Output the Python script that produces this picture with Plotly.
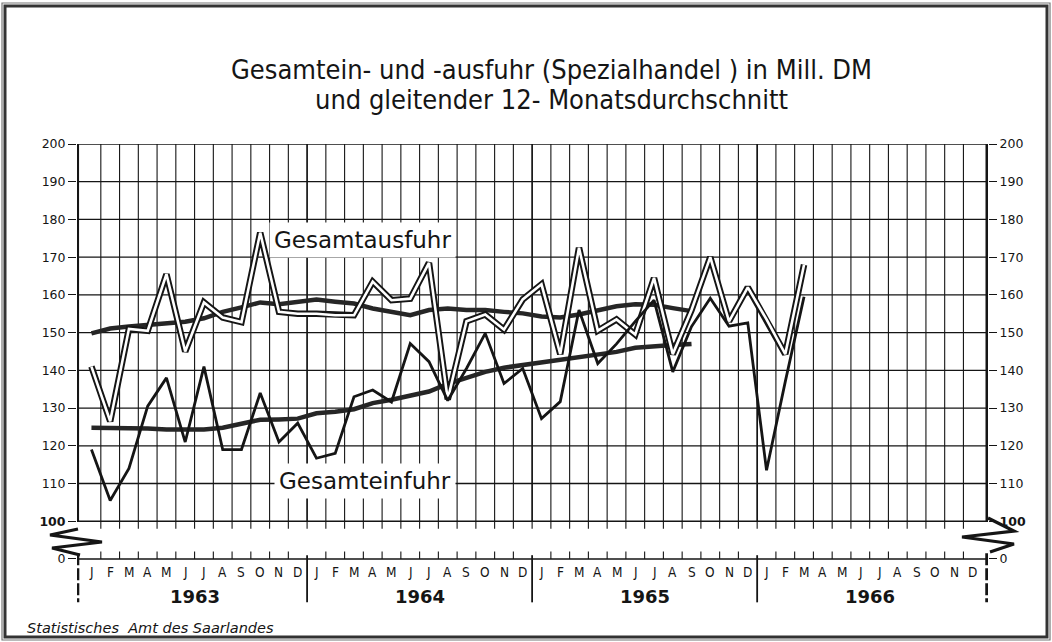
import plotly.graph_objects as go

# ---------------- data ----------------
month_letters = ["J", "F", "M", "A", "M", "J", "J", "A", "S", "O", "N", "D"]
years = ["1963", "1964", "1965", "1966"]

# Gesamtausfuhr, monthly (Jan 1963 .. Mar 1966), Mill. DM
export_monthly = [
    141, 126.5, 151, 150.5, 165.5, 145, 158, 154, 152.8, 176.5, 155.5, 155,
    155, 154.6, 154.6, 163.5, 158.6, 159, 168.5, 132.3, 153, 154.8, 150.8, 158.8,
    162.8, 144.3, 172.5, 150.5, 153.5, 149.5, 164.5, 144.3, 156, 170, 153, 162,
    153.5, 144.3, 168,
]
# Gesamtausfuhr, gliding 12-month average (Jan 1963 .. Sep 1965)
export_ma = [
    149.8, 151.1, 151.6, 152, 152.6, 152.9, 153.8, 155.5, 156.7, 158, 157.5, 158.2,
    158.8, 158.2, 157.7, 156.4, 155.5, 154.6, 156, 156.4, 156, 156, 155.5, 155.1,
    154.3, 154, 154.8, 156, 157, 157.5, 157.4, 156.5, 155.7,
]
# Gesamteinfuhr, monthly (Jan 1963 .. Mar 1966)
import_monthly = [
    119, 105.5, 114, 130.5, 138, 121, 141, 119, 119, 134, 121, 126,
    116.7, 118, 133, 134.8, 131.6, 147.1, 142.3, 132, 140.5, 149.8, 136.5, 140.5,
    127.2, 131.7, 156, 141.8, 147, 153, 158.6, 139.6, 151.6, 159.1, 151.7, 152.6,
    113.5, 137, 159.5,
]
# Gesamteinfuhr, gliding 12-month average (Jan 1963 .. Sep 1965)
import_ma = [
    124.8, 124.8, 124.8, 124.6, 124.3, 124.3, 124.3, 124.8, 125.9, 126.9, 127, 127.2,
    128.6, 129, 129.7, 131.3, 132.2, 133.4, 134.4, 136.4, 138, 139.6, 140.7, 141.4,
    142.3, 142.9, 143.6, 144.3, 144.9, 146, 146.2, 146.7, 147,
]
y_tick_values = [100, 110, 120, 130, 140, 150, 160, 170, 180, 190, 200]
y_tick_labels = ["<b>100</b>", "110", "120", "130", "140", "150", "160", "170", "180", "190", "200"]
zero_label = "0"

# ---------------- geometry ----------------
W, H = 1052, 642
L, R, T, B = 77, 988, 144, 608
PW, PH = R - L, B - T
X_RANGE = [-0.77, 47.81]
Y_RANGE = [77, 200]
ZERO_POS = 90          # broken axis: "0" drawn at this level
N_MONTHS = 48


def px(xp, yp):
    """pixel -> paper coords (for decorations only)"""
    return (xp - L) / PW, (B - yp) / PH


INK = "#151515"
fig = go.Figure()

# import MA
fig.add_trace(go.Scatter(x=list(range(len(import_ma))), y=import_ma, mode="lines",
                         line=dict(color="#262626", width=4.5), hoverinfo="skip"))
# export MA
fig.add_trace(go.Scatter(x=list(range(len(export_ma))), y=export_ma, mode="lines",
                         line=dict(color="#262626", width=4.5), hoverinfo="skip"))
# export monthly: double line
fig.add_trace(go.Scatter(x=list(range(len(export_monthly))), y=export_monthly, mode="lines",
                         line=dict(color=INK, width=6.5), hoverinfo="skip"))
fig.add_trace(go.Scatter(x=list(range(len(export_monthly))), y=export_monthly, mode="lines",
                         line=dict(color="white", width=2.6), hoverinfo="skip"))
# import monthly
fig.add_trace(go.Scatter(x=list(range(len(import_monthly))), y=import_monthly, mode="lines",
                         line=dict(color=INK, width=2.8), hoverinfo="skip"))
# dummy for right axis
fig.add_trace(go.Scatter(x=[0], y=[150], yaxis="y2", mode="markers",
                         marker=dict(opacity=0), hoverinfo="skip"))

shapes = []
# horizontal grid
for v in y_tick_values:
    shapes.append(dict(type="line", xref="x", yref="y", x0=X_RANGE[0], x1=X_RANGE[1],
                       y0=v, y1=v, line=dict(color=INK, width=1.3), layer="below"))
shapes.append(dict(type="line", xref="x", yref="y", x0=X_RANGE[0], x1=X_RANGE[1],
                   y0=ZERO_POS, y1=ZERO_POS, line=dict(color=INK, width=1.4), layer="below"))
# vertical grid at month boundaries
for k in range(N_MONTHS - 1):
    b = k + 0.5
    year_line = (k + 1) % 12 == 0
    shapes.append(dict(type="line", xref="x", yref="y", x0=b, x1=b, y0=100, y1=200,
                       line=dict(color=INK, width=1.7 if year_line else 1.1), layer="below"))
    shapes.append(dict(type="line", xref="x", yref="y", x0=b, x1=b, y0=100, y1=98,
                       line=dict(color=INK, width=1.1), layer="below"))
    if year_line:
        shapes.append(dict(type="line", xref="x", yref="y", x0=b, x1=b, y0=ZERO_POS + 1, y1=78.5,
                           line=dict(color=INK, width=1.8), layer="below"))
    else:
        shapes.append(dict(type="line", xref="x", yref="y", x0=b, x1=b, y0=ZERO_POS, y1=ZERO_POS + 2,
                           line=dict(color=INK, width=1.1), layer="below"))
# left / right axes
for xa, wdt in ((X_RANGE[0] + 0.03, 3), (X_RANGE[1] - 0.04, 3.5)):
    shapes.append(dict(type="line", xref="x", yref="y", x0=xa, x1=xa, y0=100, y1=200,
                       line=dict(color=INK, width=wdt)))
    shapes.append(dict(type="line", xref="x", yref="y", x0=xa, x1=xa, y0=ZERO_POS + 1.5, y1=78.5,
                       line=dict(color=INK, width=wdt + 0.5, dash="12px,3px")))

# axis break zigzags
def zig(points):
    pts = [px(a, b) for a, b in points]
    d = "M " + " L ".join(f"{x:.4f},{y:.4f}" for x, y in pts)
    return dict(type="path", xref="paper", yref="paper", path=d,
                line=dict(color=INK, width=3.2))

shapes.append(zig([(78, 529), (50, 535), (102, 542), (52, 548), (80, 555)]))
shapes.append(zig([(988, 518), (1014, 531), (962, 537), (1014, 544), (990, 552)]))

# outer frame
fx0, fy0 = px(5, 637)
fx1, fy1 = px(1047, 6)
shapes.append(dict(type="rect", xref="paper", yref="paper", x0=fx0, y0=fy0, x1=fx1, y1=fy1,
                   line=dict(color="#333", width=3)))
gx0, gy0 = px(2, 640)
gx1, gy1 = px(1050, 3)
shapes.append(dict(type="rect", xref="paper", yref="paper", x0=gx0, y0=gy0, x1=gx1, y1=gy1,
                   line=dict(color="#777", width=1.2)))

annotations = []
# month letters and years
for m in range(N_MONTHS):
    annotations.append(dict(x=m, y=86.6, xref="x", yref="y", text=month_letters[m % 12],
                            showarrow=False,
                            font=dict(family="DejaVu Sans Condensed, Liberation Sans Narrow, DejaVu Sans",
                                      size=13.5, color=INK)))
for i, yr in enumerate(years):
    annotations.append(dict(x=12 * i + 5.5, y=80.0, xref="x", yref="y", text=f"<b>{yr}</b>",
                            showarrow=False, font=dict(family="DejaVu Sans", size=18, color=INK)))

# series labels
annotations.append(dict(x=14.45, y=174.5, xref="x", yref="y", text="Gesamtausfuhr", showarrow=False,
                        bgcolor="white", borderpad=4,
                        font=dict(family="DejaVu Sans", size=23, color=INK)))
annotations.append(dict(x=14.6, y=110.7, xref="x", yref="y", text="Gesamteinfuhr", showarrow=False,
                        bgcolor="white", borderpad=4,
                        font=dict(family="DejaVu Sans", size=23, color=INK)))

# title
tx, ty1 = px(551, 70)
_, ty2 = px(551, 100)
title_font = dict(family="DejaVu Sans Condensed, Liberation Sans Narrow, DejaVu Sans", size=27, color=INK)
annotations.append(dict(x=tx, y=ty1, xref="paper", yref="paper", xanchor="center", yanchor="middle",
                        showarrow=False,
                        text="Gesamtein- und -ausfuhr (Spezialhandel ) in Mill. DM", font=title_font))
annotations.append(dict(x=tx, y=ty2, xref="paper", yref="paper", xanchor="center", yanchor="middle",
                        showarrow=False,
                        text="und gleitender 12- Monatsdurchschnitt", font=title_font))
# source
sx, sy = px(25, 628)
annotations.append(dict(x=sx, y=sy, xref="paper", yref="paper", xanchor="left", yanchor="middle",
                        showarrow=False,
                        text="<i>Statistisches  Amt des Saarlandes</i>",
                        font=dict(family="DejaVu Sans", size=14.5, color=INK)))

tickvals = [ZERO_POS] + y_tick_values
ticktext = [zero_label] + y_tick_labels
axis_common = dict(range=Y_RANGE, tickvals=tickvals, ticktext=ticktext, ticks="outside", ticklen=8,
                   tickwidth=1.4, tickcolor=INK, showgrid=False, zeroline=False, showline=False,
                   fixedrange=True, tickfont=dict(family="DejaVu Sans", size=12.5, color=INK))

fig.update_layout(
    width=W, height=H,
    margin=dict(l=L, r=W - R, t=T, b=H - B),
    paper_bgcolor="white", plot_bgcolor="white", showlegend=False,
    xaxis=dict(range=X_RANGE, showgrid=False, zeroline=False, showticklabels=False,
               showline=False, ticks="", fixedrange=True),
    yaxis=axis_common,
    yaxis2=dict(overlaying="y", side="right", **axis_common),
    shapes=shapes, annotations=annotations,
)

fig.write_html("out.html", config={"displayModeBar": False},
               post_script="document.body.style.margin='0';")
